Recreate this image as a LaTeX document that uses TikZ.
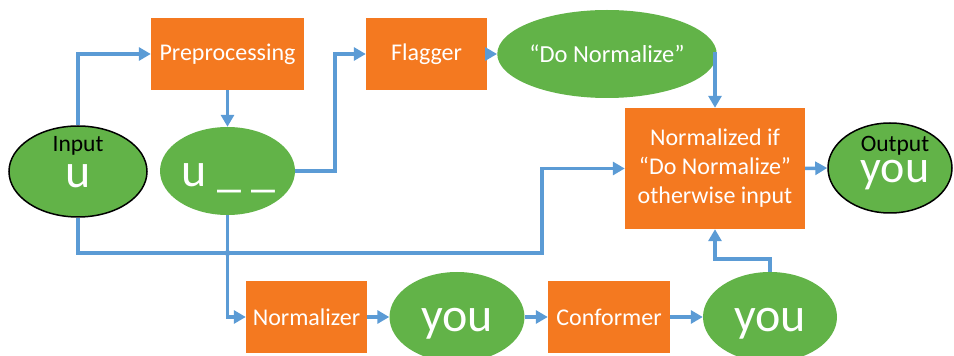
\documentclass[tikz,border=0pt]{standalone}
\usepackage{fontspec}
\setmainfont{Carlito}
\usetikzlibrary{shapes.geometric,arrows.meta}
\definecolor{boxorange}{RGB}{244,121,32}
\definecolor{ovalgreen}{RGB}{98,179,72}
\definecolor{flowblue}{RGB}{91,155,213}
\begin{document}
\begin{tikzpicture}[x=1pt, y=1pt,
  box/.style={rectangle, fill=boxorange, text=white, font=\fontsize{24}{29}\selectfont, align=center, inner sep=0},
  oval/.style={ellipse, fill=ovalgreen, inner sep=0},
  caption/.style={text=black, inner sep=0, anchor=base, font=\fontsize{23.5}{23.5}\selectfont},
  big/.style={text=white, inner sep=0, anchor=base, font=\fontsize{48}{48}\selectfont},
  flow/.style={draw=flowblue, line width=3.5pt, -{Triangle[length=12pt,width=13pt]}}]
\useasboundingbox (0,0) rectangle (954,356);
% top row
\node[box, minimum width=153, minimum height=72] (pre) at (227.5,302){Preprocessing};
\node[box, minimum width=121, minimum height=72] (flag) at (426.5,302){Flagger};
\node[oval, minimum width=194, minimum height=88, text=white, font=\fontsize{24.5}{29}\selectfont] (donorm) at (607,302){“Do Normalize”};
% middle row
\node[oval, draw=black, line width=1.5pt, minimum width=138, minimum height=91] (inp) at (78,184.5){};
\node[caption] (inplbl) at (78,204){Input};
\node[big] (inpu) at (78,168){u};
\node[oval, minimum width=135, minimum height=88] (ubar) at (227.5,185){};
\node[big] (ubartxt) at (228.5,169){u \_ \_};
\node[box, minimum width=180, minimum height=121] (normd) at (715,187.5){Normalized if\\“Do Normalize”\\otherwise input};
\node[oval, draw=black, line width=1.5pt, minimum width=124, minimum height=90] (out) at (890,188){};
\node[caption] (outlbl) at (895,204){Output};
\node[big, font=\fontsize{46}{46}\selectfont] (outyou) at (895,173){you};
% bottom row
\node[box, minimum width=121, minimum height=72] (nlzr) at (306.5,39){Normalizer};
\node[oval, minimum width=135, minimum height=90] (you1) at (457,39){};
\node[big] (you1txt) at (457,24){you};
\node[box, minimum width=122, minimum height=72] (conf) at (609,39){Conformer};
\node[oval, minimum width=134, minimum height=90] (you2) at (770,39){};
\node[big] (you2txt) at (770,24){you};
\coordinate (jn) at (227.5,103);
\coordinate (bend) at (542,103);
% connectors
\draw[flow](inp.north) |- (pre.west);
\draw[flow](pre.south) -- (ubar.north);
\draw[flow](ubar.east) -- ++(40,0) |- (flag.west);
\draw[flow](flag.east) -- (donorm.west);
\draw[flow](donorm.east) -| (normd.north);
\draw[flow](inp.south) |- (bend) |- (normd.west);
\draw[flow](ubar.south) |- (nlzr.west);
\fill[flowblue] (jn) circle (3);
\draw[flow](nlzr.east) -- (you1.west);
\draw[flow](you1.east) -- (conf.west);
\draw[flow](conf.east) -- (you2.west);
\draw[flow](you2.north) -- ++(0,13) -| (normd.south);
\draw[flow](normd.east) -- (out.west);
\end{tikzpicture}
\end{document}
